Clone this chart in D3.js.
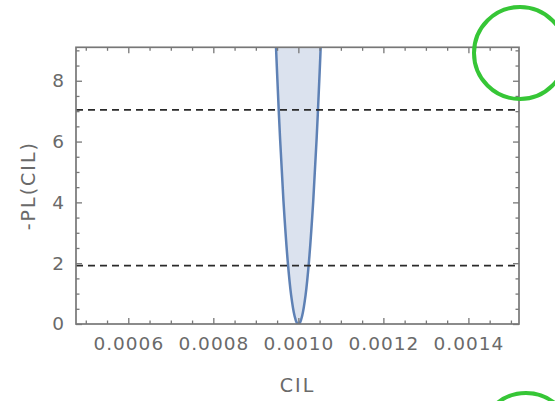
<!DOCTYPE html>
<html>
<head>
<meta charset="utf-8">
<script src="https://cdn.jsdelivr.net/npm/d3@7/dist/d3.min.js"></script>
<style>
  html, body { margin: 0; padding: 0; background: #fff; }
  svg { display: block; }
  .tick text { font-family: "DejaVu Sans", sans-serif; font-size: 18.5px; fill: #6a6a6a; letter-spacing: 1px; }
  .lbl { font-family: "DejaVu Sans", sans-serif; font-size: 19px; fill: #6a6a6a; letter-spacing: 2px; }
</style>
</head>
<body>
<script>
// ---- data ----
const cilValues = [0.000946, 0.000950, 0.000957, 0.000965, 0.000975, 0.000983, 0.000991, 0.000996, 0.001000,
                   0.001004, 0.001009, 0.001017, 0.001025, 0.001035, 0.001043, 0.001050, 0.001054];
const plValues  = [9.62, 8.25, 6.10, 4.04, 2.06, 0.95, 0.27, 0.05, 0,
                   0.05, 0.27, 0.95, 2.06, 4.04, 6.10, 8.25, 9.62];
const thresholds = [1.92, 7.04];
const xMajorTicks = [0.0006, 0.0008, 0.0010, 0.0012, 0.0014];
const yMajorTicks = [0, 2, 4, 6, 8];
const xDomain = [0.000477, 0.001519];
const yDomain = [0, 9.1];
const xTitle = "CIL";
const yTitle = "-PL(CIL)";

const W = 555, H = 401;
const L = 76, R = 519, T = 47.3, B = 324;

const svg = d3.select("body").append("svg").attr("width", W).attr("height", H);

const x = d3.scaleLinear().domain(xDomain).range([L, R]);
const y = d3.scaleLinear().domain(yDomain).range([B, T]);

const xMinor = d3.range(0.0005, 0.00151, 0.00005).filter(v => !xMajorTicks.some(m => Math.abs(m - v) < 1e-9));
const yMinor = d3.range(0, 9.01, 0.5).filter(v => !yMajorTicks.includes(v));

svg.append("clipPath").attr("id", "clip")
  .append("rect").attr("x", L).attr("y", T).attr("width", R - L).attr("height", B - T);

const pts = cilValues.map((c, i) => ({ c, p: plValues[i] }));

const g = svg.append("g").attr("clip-path", "url(#clip)");
g.append("path").datum(pts)
  .attr("d", d3.area().x(d => x(d.c)).y0(y(yDomain[1])).y1(d => y(d.p)).curve(d3.curveCatmullRom))
  .attr("fill", "#dbe2ee");
g.append("path").datum(pts)
  .attr("d", d3.line().x(d => x(d.c)).y(d => y(d.p)).curve(d3.curveCatmullRom))
  .attr("fill", "none").attr("stroke", "#5e81b5").attr("stroke-width", 2.5);

// dashed threshold lines
svg.selectAll(".thr").data(thresholds).enter().append("line")
  .attr("x1", L).attr("x2", R).attr("y1", d => y(d)).attr("y2", d => y(d))
  .attr("stroke", "#2a2a2a").attr("stroke-width", 1.8).attr("stroke-dasharray", "7,5");

function style(sel) {
  sel.select(".domain").remove();
  sel.selectAll(".tick line").attr("stroke", "#777").attr("stroke-width", 1.3);
}

// bottom
svg.append("g").attr("transform", `translate(0,${B})`)
  .call(d3.axisBottom(x).tickValues(xMajorTicks).tickFormat(d3.format(".4f")).tickSize(-6).tickPadding(13))
  .call(style);
svg.append("g").attr("transform", `translate(0,${B})`)
  .call(d3.axisBottom(x).tickValues(xMinor).tickFormat("").tickSize(-3.5)).call(style);
// top
svg.append("g").attr("transform", `translate(0,${T})`)
  .call(d3.axisTop(x).tickValues(xMajorTicks).tickFormat("").tickSize(-6)).call(style);
svg.append("g").attr("transform", `translate(0,${T})`)
  .call(d3.axisTop(x).tickValues(xMinor).tickFormat("").tickSize(-3.5)).call(style);
// left
svg.append("g").attr("transform", `translate(${L},0)`)
  .call(d3.axisLeft(y).tickValues(yMajorTicks).tickFormat(d3.format("d")).tickSize(-6).tickPadding(11))
  .call(style);
svg.append("g").attr("transform", `translate(${L},0)`)
  .call(d3.axisLeft(y).tickValues(yMinor).tickFormat("").tickSize(-3.5)).call(style);
// right
svg.append("g").attr("transform", `translate(${R},0)`)
  .call(d3.axisRight(y).tickValues(yMajorTicks).tickFormat("").tickSize(-6)).call(style);
svg.append("g").attr("transform", `translate(${R},0)`)
  .call(d3.axisRight(y).tickValues(yMinor).tickFormat("").tickSize(-3.5)).call(style);

// frame
svg.append("rect").attr("x", L).attr("y", T).attr("width", R - L).attr("height", B - T)
  .attr("fill", "none").attr("stroke", "#777").attr("stroke-width", 1.7);

// titles
svg.append("text").attr("class", "lbl").attr("x", (L + R) / 2).attr("y", 392)
  .attr("text-anchor", "middle").text(xTitle);
svg.append("text").attr("class", "lbl")
  .attr("transform", `translate(35,${(T + B) / 2}) rotate(-90)`)
  .attr("text-anchor", "middle").text(yTitle);

// green annotation circles
svg.append("circle").attr("cx", 520).attr("cy", 53).attr("r", 46)
  .attr("fill", "none").attr("stroke", "#36c636").attr("stroke-width", 4);
svg.append("circle").attr("cx", 526).attr("cy", 439).attr("r", 46)
  .attr("fill", "none").attr("stroke", "#36c636").attr("stroke-width", 4);
</script>
</body>
</html>
